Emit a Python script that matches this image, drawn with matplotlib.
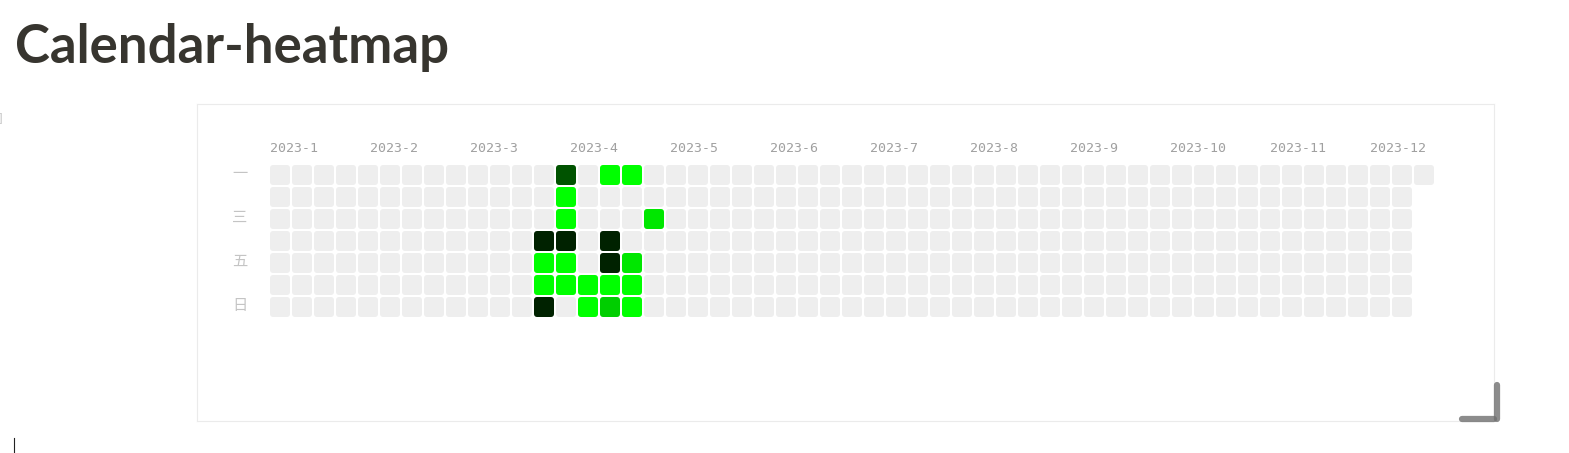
import matplotlib
matplotlib.use("Agg")
import matplotlib.pyplot as plt
import pandas as pd
from matplotlib.patches import FancyBboxPatch
from matplotlib.colors import LinearSegmentedColormap, Normalize
from matplotlib.lines import Line2D

# data
active_dates = ["2023-03-29", "2023-03-30", "2023-03-31", "2023-04-01",
                "2023-04-02", "2023-04-03", "2023-04-04", "2023-04-05",
                "2023-04-06", "2023-04-07", "2023-04-14", "2023-04-15",
                "2023-04-16", "2023-04-19", "2023-04-20", "2023-04-21",
                "2023-04-22", "2023-04-23", "2023-04-27", "2023-04-28",
                "2023-04-29", "2023-05-02"]
active_values = [10, 1, 1, 10,
                 8, 1, 1, 10,
                 1, 1, 1, 1,
                 1, 10, 10, 1,
                 3, 1, 2, 1,
                 1, 2]
month_labels = ["2023-1", "2023-2", "2023-3", "2023-4", "2023-5", "2023-6",
                "2023-7", "2023-8", "2023-9", "2023-10", "2023-11", "2023-12"]
weekday_labels = ["一", "", "三", "", "五", "", "日"]

days = pd.date_range("2023-01-01", "2023-12-31")
values = pd.Series(0, index=days)
values[pd.to_datetime(active_dates)] = active_values

cmap = LinearSegmentedColormap.from_list("grn", ["#00ff00", "#002200"])
norm = Normalize(vmin=1, vmax=10)
empty = "#eeeeee"

W, H = 1569, 453
fig = plt.figure(figsize=(W / 100, H / 100), dpi=100)

# title
fig.text(15 / W, (H - 63) / H, "Calendar-heatmap", fontsize=38, fontweight="bold",
         family="Lato", color="#37352f", va="baseline", ha="left")

# stray bracket at the left edge
fig.text(3 / W, (H - 119) / H, "]", fontsize=9, color="#cccccc",
         ha="right", va="center")

# outer box
box = fig.add_axes([197 / W, (H - 421) / H, (1494 - 197) / W, (421 - 104) / H])
box.set_xticks([])
box.set_yticks([])
for s in box.spines.values():
    s.set_color("#ebebeb")
    s.set_linewidth(0.8)

# heatmap
pitch = 22
ax = fig.add_axes([270 / W, (H - 165 - 7 * pitch) / H, 53 * pitch / W, 7 * pitch / H])
ax.set_xlim(0, 53)
ax.set_ylim(7, 0)
ax.axis("off")

size = 20 / pitch
for i, (d, v) in enumerate(values.items()):
    col, row = divmod(i, 7)
    color = empty if v == 0 else cmap(norm(v))
    ax.add_patch(FancyBboxPatch((col, row), size, size,
                                boxstyle="round,pad=0,rounding_size=0.15",
                                facecolor=color, edgecolor="none"))

step = 100 / pitch
for i, lab in enumerate(month_labels):
    ax.text(i * step, -0.77, lab, ha="left", va="center", fontsize=9.5,
            family="DejaVu Sans Mono", color="#a0a0a0", clip_on=False)

for r, lab in enumerate(weekday_labels):
    if lab:
        ax.text(-1.36, r + 0.38, lab, ha="center", va="center", fontsize=11,
                family=["Noto Sans CJK SC", "DejaVu Sans"], color="#c4c4c4",
                clip_on=False)

# resize handle in the corner
hc = "#6f6f6f"
fig.add_artist(Line2D([1497 / W, 1497 / W], [(H - 385) / H, (H - 419) / H],
                      color=hc, lw=4.5, solid_capstyle="round", alpha=0.8))
fig.add_artist(Line2D([1462 / W, 1494 / W], [(H - 419) / H, (H - 419) / H],
                      color=hc, lw=4.5, solid_capstyle="round", alpha=0.8))

# text cursor
fig.add_artist(Line2D([14 / W, 14 / W], [(H - 438) / H, (H - 452) / H],
                      color="#222222", lw=0.8))

fig.savefig("out.png", dpi=100)
